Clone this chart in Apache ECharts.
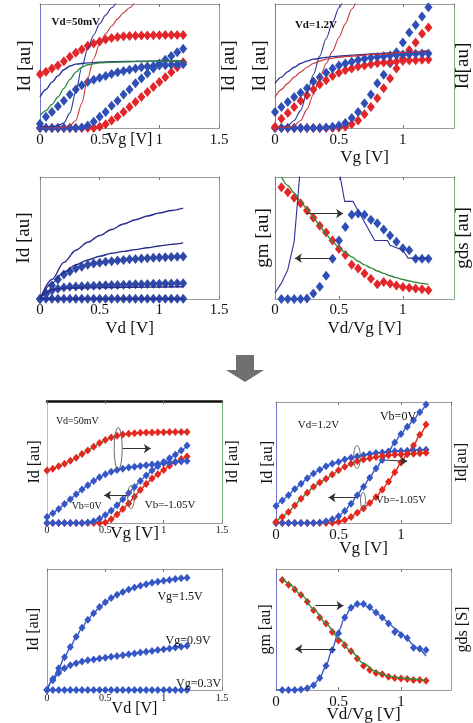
<!DOCTYPE html>
<html><head><meta charset="utf-8">
<script src="https://cdn.jsdelivr.net/npm/echarts/dist/echarts.min.js"></script>
<style>html,body{margin:0;padding:0;background:#fff}#c{width:473px;height:723px}</style>
</head><body><div id="c"></div>
<script>
// ---------- DATA ----------
const VG = [0,0.05,0.1,0.15,0.2,0.25,0.3,0.35,0.4,0.45,0.5,0.55,0.6,0.65,0.7,0.75,0.8,0.85,0.9,0.95,1.0,1.05,1.1,1.15,1.2];
const VD8 = [0.05,0.1,0.15,0.2,0.25,0.3,0.35,0.4,0.45,0.5,0.55,0.6,0.65,0.7,0.75,0.8,0.85,0.9,0.95,1.0,1.05,1.1,1.15,1.2];
const XTICKS = [0,0.5,1,1.5];

// panel 1: Vd=50mV (original model)
const p1RedLin  = [0.434,0.453,0.48,0.504,0.539,0.574,0.606,0.633,0.663,0.682,0.698,0.714,0.725,0.733,0.739,0.741,0.744,0.745,0.746,0.747,0.748,0.749,0.75,0.75,0.75];
const p1BlueLin = [0.035,0.09,0.13,0.175,0.22,0.27,0.31,0.345,0.37,0.39,0.405,0.42,0.435,0.45,0.46,0.47,0.48,0.49,0.495,0.5,0.505,0.507,0.51,0.512,0.515];
const p1BlueLog = [0,0,0,0,0,0,0,0.005,0.02,0.05,0.09,0.13,0.18,0.22,0.27,0.31,0.36,0.40,0.44,0.48,0.52,0.55,0.58,0.61,0.64];
const p1RedLog  = [0,0,0,0,0,0,0,0,0,0,0.01,0.03,0.06,0.09,0.13,0.17,0.21,0.25,0.29,0.33,0.37,0.41,0.45,0.49,0.53];
const p1BlueSteep = [[0,0.02],[0.05,0.01],[0.1,0.01],[0.15,0.02],[0.2,0.04],[0.25,0.12],[0.3,0.29],[0.35,0.49],[0.4,0.64],[0.45,0.75],[0.5,0.84],[0.55,0.91],[0.6,0.97],[0.65,1.03]];
const p1RedSteep  = [[0,0],[0.15,0],[0.2,0.005],[0.25,0.02],[0.3,0.06],[0.35,0.2],[0.4,0.4],[0.45,0.56],[0.5,0.68],[0.55,0.76],[0.6,0.82],[0.65,0.88],[0.7,0.93],[0.75,0.97],[0.8,1.02]];
const p1BlueSat = [[0,0.25],[0.05,0.31],[0.1,0.37],[0.15,0.42],[0.2,0.47],[0.25,0.5],[0.3,0.515],[0.4,0.525],[0.5,0.53],[0.6,0.535],[0.8,0.538],[1.0,0.54],[1.2,0.54]];
const p1Green   = [[0,0.10],[0.05,0.14],[0.1,0.19],[0.15,0.25],[0.2,0.32],[0.25,0.39],[0.3,0.45],[0.35,0.49],[0.4,0.51],[0.5,0.525],[0.6,0.53],[0.8,0.535],[1.0,0.54],[1.2,0.54]];

// panel 2: Vd=1.2V (original model)
const p2BlueLog = [0,0,0,0,0,0,0,0,0.005,0.01,0.02,0.04,0.08,0.13,0.2,0.27,0.36,0.43,0.52,0.61,0.69,0.77,0.83,0.9,0.973];
const p2RedLog  = [0,0,0,0,0,0,0,0,0,0,0.005,0.01,0.03,0.06,0.11,0.17,0.24,0.32,0.40,0.48,0.56,0.63,0.69,0.76,0.81];
const p2BlueLin = [0.13,0.17,0.21,0.25,0.285,0.32,0.375,0.41,0.445,0.48,0.505,0.52,0.535,0.548,0.558,0.566,0.573,0.579,0.584,0.589,0.592,0.595,0.598,0.6,0.6];
const p2RedLin  = [0.01,0.075,0.12,0.17,0.22,0.265,0.31,0.35,0.385,0.42,0.445,0.465,0.48,0.495,0.505,0.515,0.522,0.528,0.533,0.537,0.541,0.544,0.547,0.55,0.552];
const p2BlueSteep = [[0,0],[0.05,0.005],[0.1,0.02],[0.15,0.06],[0.2,0.14],[0.25,0.28],[0.3,0.43],[0.35,0.58],[0.4,0.72],[0.45,0.85],[0.5,0.97],[0.55,1.08]];
const p2RedSteep  = [[0,0],[0.1,0.005],[0.15,0.02],[0.2,0.06],[0.25,0.15],[0.3,0.27],[0.35,0.4],[0.4,0.52],[0.45,0.62],[0.5,0.73],[0.55,0.84],[0.6,0.96],[0.65,1.06]];
const p2BlueSat = [[0,0.36],[0.05,0.41],[0.1,0.455],[0.15,0.49],[0.2,0.52],[0.25,0.54],[0.3,0.555],[0.4,0.57],[0.5,0.58],[0.6,0.588],[0.8,0.6],[1.0,0.61],[1.2,0.62]];
const p2RedSat  = [[0,0.25],[0.05,0.31],[0.1,0.36],[0.15,0.41],[0.2,0.45],[0.25,0.49],[0.3,0.52],[0.35,0.54],[0.4,0.555],[0.5,0.57],[0.6,0.58],[0.8,0.595],[1.0,0.61],[1.2,0.625]];

// panel 3: Id-Vd (original)
const p3Dia1 = [0,0.05,0.11,0.16,0.2,0.225,0.25,0.265,0.28,0.29,0.298,0.305,0.31,0.316,0.32,0.325,0.328,0.332,0.335,0.338,0.341,0.343,0.345,0.347,0.349];
const p3Dia2 = [0,0.04,0.07,0.085,0.095,0.1,0.103,0.105,0.107,0.109,0.111,0.112,0.114,0.115,0.117,0.118,0.12,0.121,0.122,0.124,0.125,0.127,0.128,0.129,0.13];
const p3Dia3 = [0,0.002,0.002,0.002,0.002,0.002,0.002,0.002,0.002,0.002,0.002,0.002,0.002,0.002,0.002,0.002,0.002,0.002,0.002,0.002,0.002,0.002,0.002,0.002,0.002];
const p3Line1 = [[0,0],[0.1,0.16],[0.2,0.3],[0.3,0.4],[0.4,0.465],[0.5,0.52],[0.6,0.57],[0.7,0.615],[0.8,0.65],[0.9,0.68],[1.0,0.705],[1.1,0.725],[1.2,0.745]];
const p3Line2 = [[0,0],[0.1,0.13],[0.2,0.22],[0.3,0.28],[0.4,0.32],[0.5,0.35],[0.6,0.375],[0.7,0.39],[0.8,0.405],[0.9,0.42],[1.0,0.435],[1.1,0.448],[1.2,0.46]];
const p3Line3 = [[0,0],[0.05,0.05],[0.1,0.075],[0.15,0.085],[0.2,0.088],[0.3,0.09],[0.5,0.093],[0.7,0.095],[0.9,0.097],[1.2,0.1]];
const p3Line4 = [[0,0],[0.6,0],[1.2,0]];

// panel 4: gm / gds (original)
const p4Red  = [0.915,0.875,0.83,0.785,0.725,0.665,0.6,0.545,0.48,0.41,0.36,0.28,0.25,0.21,0.165,0.12,0.14,0.125,0.11,0.098,0.092,0.087,0.08,0.072];
const p4Blue = [0,0,0,0,0.005,0.045,0.1,0.19,0.33,0.48,0.59,0.69,0.70,0.69,0.65,0.62,0.57,0.52,0.47,0.415,0.4,0.33,0.33,0.33];
const p4Green = [[0.05,1.0],[0.1,0.93],[0.15,0.87],[0.2,0.8],[0.25,0.74],[0.3,0.67],[0.35,0.6],[0.4,0.53],[0.45,0.47],[0.5,0.42],[0.55,0.38],[0.6,0.345],[0.65,0.31],[0.7,0.28],[0.75,0.255],[0.8,0.23],[0.85,0.21],[0.9,0.19],[0.95,0.175],[1.0,0.16],[1.05,0.148],[1.1,0.137],[1.15,0.128],[1.2,0.12]];
const p4BlueLine = [[0,0.05],[0.05,0.13],[0.1,0.24],[0.15,0.47],[0.2,1.1],[0.25,1.8],[0.45,1.8],[0.5,1.06],[0.545,0.8],[0.61,0.8],[0.78,0.48],[0.88,0.48],[0.9,0.44],[1.0,0.4],[1.04,0.335],[1.2,0.335]];

// panel 5: Vd=50mV (new model)
const p5RG      = [0.43,0.445,0.465,0.485,0.51,0.535,0.565,0.595,0.625,0.655,0.68,0.7,0.715,0.725,0.732,0.736,0.739,0.741,0.742,0.743,0.744,0.745,0.745,0.746,0.746];
const p5BlueLin = [0.05,0.08,0.115,0.155,0.195,0.235,0.275,0.31,0.345,0.375,0.4,0.42,0.435,0.445,0.455,0.462,0.468,0.474,0.479,0.484,0.489,0.494,0.499,0.504,0.509];
const p5BlueLog = [0,0,0,0,0,0,0,0.005,0.015,0.035,0.065,0.1,0.145,0.195,0.245,0.295,0.345,0.39,0.43,0.465,0.5,0.53,0.56,0.595,0.635];
const p5RedLog  = [0,0,0,0,0,0,0,0,0,0,0.005,0.03,0.07,0.115,0.16,0.215,0.27,0.32,0.365,0.4,0.435,0.47,0.5,0.525,0.545];

// panel 6: Vd=1.2V (new model)
const p6BlueLog = [0,0,0,0,0,0,0,0.005,0.015,0.03,0.055,0.1,0.16,0.23,0.3,0.375,0.45,0.52,0.59,0.665,0.735,0.795,0.85,0.915,0.98];
const p6RedLog  = [0,0,0,0,0,0,0,0,0,0.003,0.01,0.025,0.05,0.085,0.12,0.165,0.215,0.275,0.34,0.42,0.5,0.57,0.64,0.73,0.815];
const p6BlueLin = [0.14,0.185,0.23,0.28,0.325,0.37,0.41,0.44,0.47,0.49,0.505,0.525,0.54,0.55,0.56,0.57,0.578,0.583,0.588,0.592,0.595,0.598,0.6,0.603,0.606];
const p6RG      = [0.01,0.05,0.09,0.145,0.2,0.25,0.3,0.335,0.365,0.4,0.435,0.465,0.49,0.51,0.525,0.535,0.545,0.553,0.56,0.564,0.567,0.57,0.573,0.577,0.58];

// panel 7: Id-Vd (new model)
const p7Vg15 = [0,0.09,0.18,0.27,0.355,0.44,0.515,0.58,0.635,0.685,0.725,0.76,0.787,0.81,0.83,0.848,0.862,0.875,0.886,0.895,0.903,0.91,0.917,0.923,0.928];
const p7Vg09 = [0,0.08,0.14,0.18,0.205,0.222,0.235,0.245,0.253,0.26,0.267,0.274,0.281,0.288,0.295,0.302,0.309,0.316,0.323,0.33,0.337,0.344,0.351,0.358,0.365];
const p7Vg03 = [0,0.001,0.001,0.001,0.001,0.001,0.001,0.001,0.001,0.001,0.001,0.001,0.001,0.001,0.001,0.001,0.001,0.001,0.001,0.001,0.001,0.001,0.001,0.001,0.001];

// panel 8: gm / gds (new model)
const p8RG      = [0.91,0.87,0.83,0.785,0.73,0.66,0.6,0.55,0.48,0.41,0.37,0.32,0.26,0.2,0.165,0.14,0.13,0.11,0.1,0.096,0.09,0.083,0.083,0.077];
const p8BlueDia = [0,0,0,0.005,0.015,0.04,0.1,0.2,0.33,0.47,0.6,0.68,0.71,0.71,0.685,0.64,0.6,0.55,0.48,0.455,0.43,0.35,0.34,0.33];
const p8BlueLine = [[0,0],[0.2,0.005],[0.25,0.015],[0.3,0.04],[0.35,0.1],[0.4,0.2],[0.45,0.34],[0.5,0.48],[0.55,0.6],[0.6,0.68],[0.65,0.71],[0.7,0.705],[0.75,0.68],[0.8,0.64],[0.85,0.6],[0.9,0.555],[0.95,0.51],[1.0,0.47],[1.05,0.42],[1.1,0.37],[1.15,0.33],[1.2,0.28]];
const p8Green = [[0.05,0.93],[0.1,0.88],[0.2,0.79],[0.3,0.67],[0.4,0.55],[0.5,0.43],[0.6,0.32],[0.7,0.22],[0.8,0.15],[0.9,0.115],[1.0,0.1],[1.1,0.09],[1.2,0.08]];

// annotations (data coordinates)
const ANN_TEXT = [
  {p:0, x:0.30, y:0.85, t:'Vd=50mV', fs:11, b:true},
  {p:1, x:0.32, y:0.83, t:'Vd=1.2V', fs:11, b:true},
  {p:4, x:0.26, y:0.83, t:'Vd=50mV', fs:10, b:false},
  {p:4, x:0.34, y:0.137, t:'Vb=0V', fs:10, b:false},
  {p:4, x:1.055, y:0.145, t:'Vb=-1.05V', fs:11, b:false},
  {p:5, x:0.34, y:0.81, t:'Vd=1.2V', fs:11, b:false},
  {p:5, x:0.976, y:0.88, t:'Vb=0V', fs:12, b:false},
  {p:5, x:1.0, y:0.193, t:'Vb=-1.05V', fs:11, b:false},
  {p:6, x:1.14, y:0.77, t:'Vg=1.5V', fs:12, b:false},
  {p:6, x:1.21, y:0.41, t:'Vg=0.9V', fs:12, b:false},
  {p:6, x:1.3, y:0.047, t:'Vg=0.3V', fs:12, b:false}
];
const ANN_ELL = [
  {p:4, x:0.61, y:0.61, rx:4, ry:21},
  {p:4, x:0.72, y:0.213, rx:3.3, ry:11.5},
  {p:5, x:0.648, y:0.545, rx:3.3, ry:11.5},
  {p:5, x:0.696, y:0.187, rx:2.5, ry:8}
];
const ARROWS = [
  {p:3, a:[0.247,0.70], b:[0.533,0.70]},
  {p:3, a:[0.44,0.334], b:[0.155,0.334]},
  {p:4, a:[0.647,0.61], b:[0.89,0.61]},
  {p:4, a:[0.69,0.227], b:[0.49,0.227]},
  {p:5, a:[0.875,0.52], b:[1.05,0.51]},
  {p:5, a:[0.635,0.21], b:[0.42,0.21]},
  {p:7, a:[0.315,0.697], b:[0.54,0.697]},
  {p:7, a:[0.475,0.339], b:[0.155,0.339]}
];

// ---------- STYLE / LAYOUT ----------
const SERIF = "'Liberation Serif','Times New Roman','DejaVu Serif',serif";
const SP_B = '#6f74cc', SP_G = '#79b879', SP_N = '#9a9a9a';
const RED = '#e3262a', BLUE = '#2f4fb6', BL_L = '#2b3399', RD_L = '#c7343a', GR_L = '#2e8c3a';
const P3D = '#3049a8', P3L = '#272b8c';
const NB = '#3557c6', NR = '#e2281f';
const GRIDS = [
  {left:40, top:4, width:179, height:124},
  {left:275, top:4, width:179, height:124},
  {left:40, top:177, width:179, height:122},
  {left:275, top:177, width:179, height:122},
  {left:47, top:401, width:175, height:122},
  {left:276, top:402, width:175, height:121},
  {left:47, top:569, width:175, height:121},
  {left:276, top:569, width:175, height:121}
];
const PANELS = [
  {xmax:1.5, xn:'Vg [V]',    tfs:15, tm:4.5, nfs:16, ng:4,    yl:'Id [au]', yr:'Id [au]', yfs:19, ygl:5.5, ygr:1, lc:SP_B, rc:SP_G, tc:SP_N, tw:1},
  {xmax:1.4, xn:'Vg [V]',    tfs:15, tm:4.5, nfs:17, ng:21.5, yl:'Id [au]', yr:'Id[au]',  yfs:19, ygl:5,   ygr:0, lc:SP_B, rc:SP_G, tc:SP_N, tw:1},
  {xmax:1.5, xn:'Vd [V]',    tfs:15, tm:3.5, nfs:17, ng:21.5, yl:'Id [au]', yr:'',        yfs:19, ygl:6.5, ygr:0, lc:SP_N, rc:SP_N, tc:SP_N, tw:1},
  {xmax:1.4, xn:'Vd/Vg [V]', tfs:15, tm:3.5, nfs:17, ng:21.5, yl:'gm [au]', yr:'gds [au]',yfs:19, ygl:2.5, ygr:0, lc:SP_B, rc:SP_G, tc:SP_N, tw:1},
  {xmax:1.5, xn:'Vg [V]',    tfs:10, tm:2,   nfs:17, ng:2.5,  yl:'Id [au]', yr:'Id [au]', yfs:16, ygl:4,   ygr:3, lc:'#9ccf9c', rc:SP_G, tc:'#111', tw:2.5},
  {xmax:1.4, xn:'Vg [V]',    tfs:15, tm:4.5, nfs:17, ng:17.5, yl:'Id [au]', yr:'Id[au]',  yfs:16, ygl:0,   ygr:3, lc:SP_B, rc:SP_G, tc:SP_N, tw:1},
  {xmax:1.5, xn:'Vd [V]',    tfs:10, tm:3,   nfs:16, ng:11,   yl:'Id [au]', yr:'',        yfs:16, ygl:5,   ygr:0, lc:SP_N, rc:SP_N, tc:SP_N, tw:1},
  {xmax:1.4, xn:'Vd/Vg [V]', tfs:15, tm:4.5, nfs:17, ng:16.5, yl:'gm [au]', yr:'gds [S]', yfs:16, ygl:2,   ygr:4, lc:SP_B, rc:SP_G, tc:SP_N, tw:1}
];

const grid = [], xAxis = [], yAxis = [], series = [];
PANELS.forEach((P, i) => {
  grid.push(Object.assign({show:false, containLabel:false, outerBoundsMode:'none'}, GRIDS[i]));
  xAxis.push({type:'value', gridIndex:i, position:'bottom', min:0, max:P.xmax, interval:0.5,
    axisLine:{show:true, onZero:false, lineStyle:{color:SP_N, width:1}},
    axisTick:{show:true, inside:true, length:3, lineStyle:{color:'#777'}},
    splitLine:{show:false},
    axisLabel:{color:'#111', fontFamily:SERIF, fontSize:P.tfs, margin:P.tm, showMinLabel:true, showMaxLabel:P.xmax===1.5, hideOverlap:false},
    name:P.xn, nameLocation:'middle', nameGap:P.ng, nameMoveOverlap:false,
    nameTextStyle:{color:'#111', fontFamily:SERIF, fontSize:P.nfs}});
  xAxis.push({type:'value', gridIndex:i, position:'top', min:0, max:P.xmax, interval:0.5,
    axisLine:{show:true, onZero:false, lineStyle:{color:P.tc, width:P.tw}},
    axisTick:{show:true, inside:true, length:3, lineStyle:{color:'#777'}},
    splitLine:{show:false}, axisLabel:{show:false}});
  yAxis.push({type:'value', gridIndex:i, position:'left', min:0, max:1,
    axisLine:{show:true, onZero:false, lineStyle:{color:P.lc, width:1}},
    axisTick:{show:false}, splitLine:{show:false}, axisLabel:{show:false},
    name:P.yl, nameLocation:'middle', nameRotate:90, nameGap:P.ygl, nameMoveOverlap:false,
    nameTextStyle:{color:'#111', fontFamily:SERIF, fontSize:P.yfs}});
  yAxis.push({type:'value', gridIndex:i, position:'right', min:0, max:1,
    axisLine:{show:true, onZero:false, lineStyle:{color:P.rc, width:1}},
    axisTick:{show:false}, splitLine:{show:false}, axisLabel:{show:false},
    name:P.yr, nameLocation:'middle', nameRotate:90, nameGap:P.ygr, nameMoveOverlap:false,
    nameTextStyle:{color:'#111', fontFamily:SERIF, fontSize:P.yfs}});
});

function zip(xs, ys){ return xs.map((x,k)=>[x, ys[k]]); }
function dia(p, xs, ys, color, size){
  return {type:'scatter', xAxisIndex:2*p, yAxisIndex:2*p, data:zip(xs,ys), symbol:'diamond',
    symbolSize:size||[8,10], itemStyle:{color:color, opacity:1}, z:3, silent:true};
}
function ln(p, pts, color, w, smooth){
  return {type:'line', xAxisIndex:2*p, yAxisIndex:2*p, data:pts, showSymbol:false, symbol:'none',
    lineStyle:{color:color, width:w||1.1}, smooth:(smooth===undefined?0.3:smooth), smoothMonotone:'x',
    clip:true, z:4, silent:true};
}
function fit(p, xs, ys, mc, lc, size){
  return {type:'line', xAxisIndex:2*p, yAxisIndex:2*p, data:zip(xs,ys), showSymbol:true, symbol:'diamond',
    symbolSize:size||[7,8], itemStyle:{color:mc, opacity:1}, lineStyle:{color:lc, width:1.4}, smooth:0.3,
    smoothMonotone:'x', z:3, silent:true};
}

// panel 1
series.push(dia(0, VG, p1RedLog, RED), dia(0, VG, p1BlueLog, BLUE), dia(0, VG, p1BlueLin, BLUE), dia(0, VG, p1RedLin, RED));
series.push(ln(0, p1BlueSteep, BL_L), ln(0, p1RedSteep, RD_L), ln(0, p1BlueSat, BL_L, 1.4), ln(0, p1Green, GR_L, 1.3));
// panel 2
series.push(dia(1, VG, p2RedLog, RED), dia(1, VG, p2BlueLog, BLUE), dia(1, VG, p2RedLin, RED), dia(1, VG, p2BlueLin, BLUE));
series.push(ln(1, p2BlueSteep, BL_L), ln(1, p2RedSteep, RD_L), ln(1, p2BlueSat, BL_L, 1.3), ln(1, p2RedSat, RD_L, 1.2));
// panel 3
series.push(dia(2, VG, p3Dia3, P3D), dia(2, VG, p3Dia2, P3D), dia(2, VG, p3Dia1, P3D));
series.push(ln(2, p3Line1, P3L, 1.4), ln(2, p3Line2, P3L, 1.4), ln(2, p3Line3, P3L, 1.4), ln(2, p3Line4, P3L, 1.4));
// panel 4
series.push(dia(3, VD8, p4Red, RED), dia(3, VD8, p4Blue, BLUE));
series.push(ln(3, p4Green, GR_L, 1.4), ln(3, p4BlueLine, BL_L, 1.1, false));
// panel 5
series.push(fit(4, VG, p5RedLog, NR, NR), fit(4, VG, p5BlueLog, NB, NB), fit(4, VG, p5BlueLin, NB, NB), fit(4, VG, p5RG, NR, GR_L));
// panel 6
series.push(fit(5, VG, p6RedLog, NR, NR), fit(5, VG, p6BlueLog, NB, NB), fit(5, VG, p6BlueLin, NB, NB), fit(5, VG, p6RG, NR, GR_L));
// panel 7
series.push(fit(6, VG, p7Vg03, NB, NB), fit(6, VG, p7Vg09, NB, NB), fit(6, VG, p7Vg15, NB, NB));
// panel 8
series.push(dia(7, VD8, p8RG, NR, [7,8]), ln(7, p8Green, GR_L, 1.4), dia(7, VD8, p8BlueDia, NB, [7,8]), ln(7, p8BlueLine, NB, 1.4));
// arrows (data coordinates)
ARROWS.forEach(A => {
  series.push({type:'lines', coordinateSystem:'cartesian2d', xAxisIndex:2*A.p, yAxisIndex:2*A.p,
    data:[{coords:[A.a, A.b]}], symbol:['none','arrow'], symbolSize:7,
    lineStyle:{color:'#333', width:1, opacity:1}, z:6, silent:true});
});

const chart = echarts.init(document.getElementById('c'), null, {renderer:'canvas'});
chart.setOption({animation:false, backgroundColor:'#fff', grid, xAxis, yAxis, series});

// text / ellipse annotations placed through the axes' scales
const gfx = [];
ANN_TEXT.forEach(T => {
  const px = chart.convertToPixel({xAxisIndex:2*T.p, yAxisIndex:2*T.p}, [T.x, T.y]);
  gfx.push({type:'text', x:px[0], y:px[1], z:10, silent:true,
    style:{text:T.t, fill:'#111', font:(T.b?'bold ':'') + T.fs + 'px ' + SERIF, textAlign:'center', textVerticalAlign:'middle'}});
});
ANN_ELL.forEach(E => {
  const px = chart.convertToPixel({xAxisIndex:2*E.p, yAxisIndex:2*E.p}, [E.x, E.y]);
  gfx.push({type:'ellipse', shape:{cx:px[0], cy:px[1], rx:E.rx, ry:E.ry}, z:10, silent:true,
    style:{fill:'none', stroke:'#666', lineWidth:1}});
});
// big separator arrow between the two figure halves
gfx.push({type:'polygon', z:10, silent:true,
  shape:{points:[[236,355],[254,355],[254,370],[264,370],[245,382],[226,370],[236,370]]},
  style:{fill:'#707070'}});
chart.setOption({graphic: gfx});
</script></body></html>
